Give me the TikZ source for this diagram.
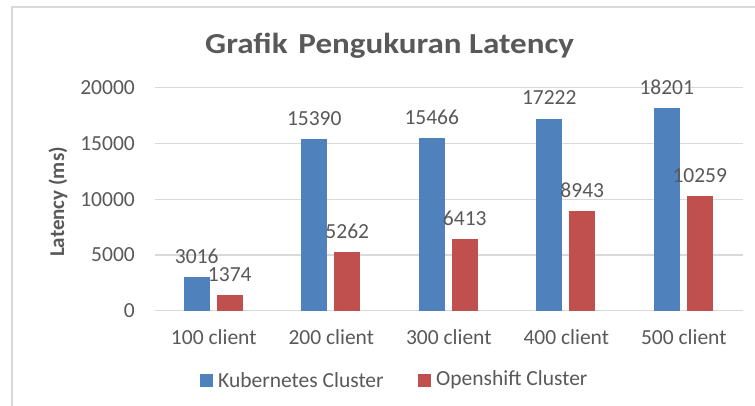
\documentclass[tikz,border=0pt]{standalone}
\usepackage{fontspec}
\usepackage{graphicx}
\setmainfont{Carlito}
\definecolor{kblue}{HTML}{4F81BD}
\definecolor{ored}{HTML}{C0504D}
\definecolor{txt}{HTML}{595959}
\definecolor{grid}{HTML}{D9D9D9}
\begin{document}
\begin{tikzpicture}[x=1pt,y=-1pt,
  lbl/.style={text=txt,font=\fontsize{21.5}{24}\selectfont,inner sep=0pt},
  ttl/.style={text=txt,font=\fontsize{29}{32}\selectfont\bfseries,inner sep=0pt},
  axt/.style={text=txt,font=\fontsize{21}{24}\selectfont\bfseries,inner sep=0pt},
  gridline/.style={draw=grid,line width=1.4pt},
  kbar/.style={fill=kblue,draw=none},
  obar/.style={fill=ored,draw=none}]
\useasboundingbox (0,0) rectangle (755,405);
\clip (0,0) rectangle (755,405);
\fill[white] (0,0) rectangle (755,405);
% chart border
\draw[draw=grid,line width=1.4pt] (12,420) -- (12,7) -- (770,7);
% title
\node[ttl,anchor=base west] (title) at (205,53) {\scalebox{1.14}[1]{Grafik\hspace{3pt} Pengukuran Latency}};
% y axis title
\node[axt,rotate=90] (ytitle) at (58,202) {Latency (ms)};
% gridlines and tick labels (values in thousands)
\foreach \v/\s/\n in {0/0/t0,5/5000/t1,10/10000/t2,15/15000/t3,20/20000/t4}{
  \pgfmathsetmacro{\yy}{310.7-\v*11.15}
  \coordinate (g\n a) at (155,\yy);
  \coordinate (g\n b) at (742.7,\yy);
  \draw[gridline] (g\n a) -- (g\n b);
  \node[lbl,anchor=east] (\n) at (135,\yy) {\s};
}
% bars (values in thousands)
\foreach \k/\a/\as/\b/\bs/\cat in {0/3.016/3016/1.374/1374/100,1/15.390/15390/5.262/5262/200,2/15.466/15466/6.413/6413/300,3/17.222/17222/8.943/8943/400,4/18.201/18201/10.259/10259/500}{
  \pgfmathsetmacro{\c}{213.75+117.5*\k}
  \pgfmathsetmacro{\ya}{310.7-\a*11.15}
  \pgfmathsetmacro{\yb}{310.7-\b*11.15}
  \fill[kbar] (\c-30,310.7) rectangle (\c-4,\ya);
  \fill[obar] (\c+3,310.7) rectangle (\c+29,\yb);
  \node[lbl] (ka\k) at (\c-17,\ya-21) {\as};
  \node[lbl] (ob\k) at (\c+16,\yb-21) {\bs};
  \node[lbl] (cat\k) at (\c,337) {\cat{} client};
}
% legend
\fill[kblue] (200,373.5) rectangle (213,386.5);
\node[lbl,anchor=west] (legk) at (218,380) {Kubernetes Cluster};
\fill[ored] (417.5,373.5) rectangle (430.5,386.5);
\node[lbl,anchor=west] (lego) at (436,380) {Openshift Cluster};
\end{tikzpicture}
\end{document}
